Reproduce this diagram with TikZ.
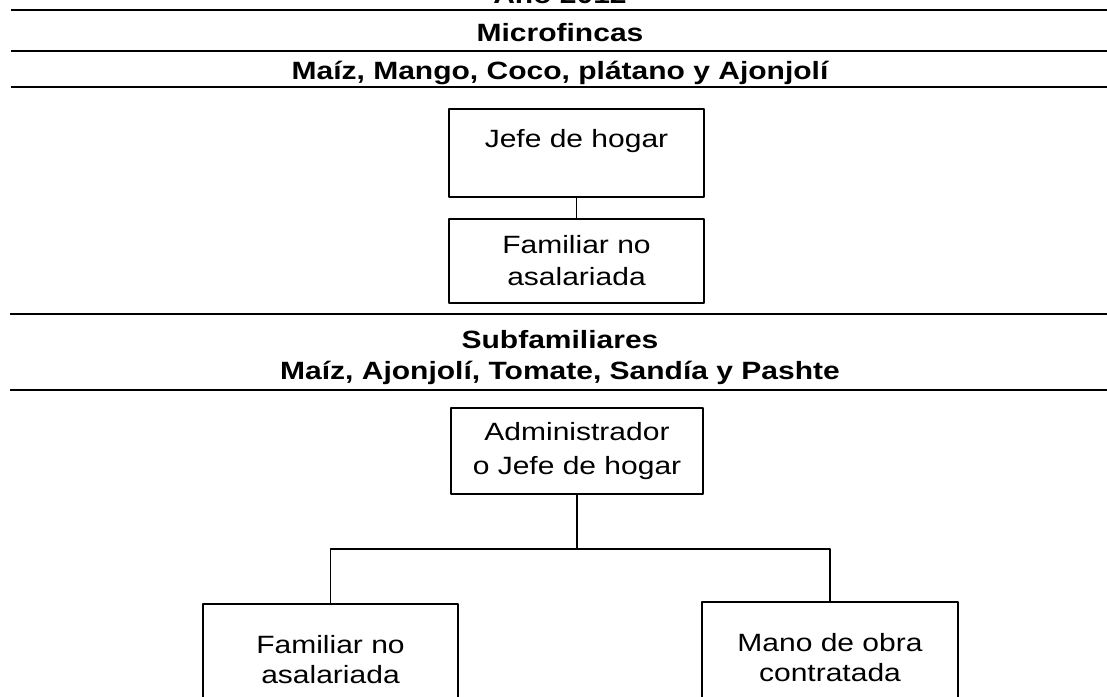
\documentclass[tikz,border=0pt]{standalone}
\usepackage{fontspec}
\setmainfont[FakeStretch=1.2]{Liberation Sans}
\begin{document}
\begin{tikzpicture}[x=1pt,y=-1pt,line join=round,
  regla/.style={line width=1.8pt},
  linea/.style={line width=1.1pt},
  caja/.style={draw,line width=1.1pt,inner sep=0pt,align=center,font=\fontsize{25}{32}\selectfont},
  titulo/.style={font=\bfseries\fontsize{25}{30}\selectfont,anchor=base}]
\useasboundingbox (0,0) rectangle (1107,696);
\clip (0,0) rectangle (1107,696);
\node[titulo] (anio) at (560,4) {Año 2012};
\draw[regla] (11,10) -- (1107,10);
\node[titulo] (micro) at (560,41) {Microfincas};
\draw[regla] (11,51) -- (1107,51);
\node[titulo] (cultivos1) at (560,79) {Maíz, Mango, Coco, plátano y Ajonjolí};
\draw[regla] (11,87) -- (1107,87);
\node[caja,minimum width=255pt,text height=38pt,text depth=50pt] (jefe) at (576.5,153) {Jefe de hogar};
\node[caja,minimum width=255pt,minimum height=84pt] (familiar) at (576.5,261) {Familiar no\\asalariada};
\draw[linea] (jefe) -- (familiar);
\draw[regla] (10,314) -- (1107,314);
\node[titulo] (subfam) at (560,348) {Subfamiliares};
\node[titulo] (cultivos2) at (560,379) {Maíz, Ajonjolí, Tomate, Sandía y Pashte};
\draw[regla] (10,390) -- (1107,390);
\node[caja,minimum width=252pt,minimum height=86pt,font=\fontsize{25}{34}\selectfont] (admin) at (577,451) {Administrador\\o Jefe de hogar};
\node[caja,minimum width=255pt,minimum height=112pt,font=\fontsize{25}{30}\selectfont] (famsub) at (330.5,660) {Familiar no\\asalariada};
\node[caja,minimum width=256pt,minimum height=112pt,font=\fontsize{25}{30}\selectfont] (mano) at (830,658) {Mano de obra\\contratada};
\coordinate (bif) at (577,549);
\draw[linea] (admin) -- (bif);
\draw[linea] (famsub.north) |- (bif) -| (mano.north);
\end{tikzpicture}
\end{document}
